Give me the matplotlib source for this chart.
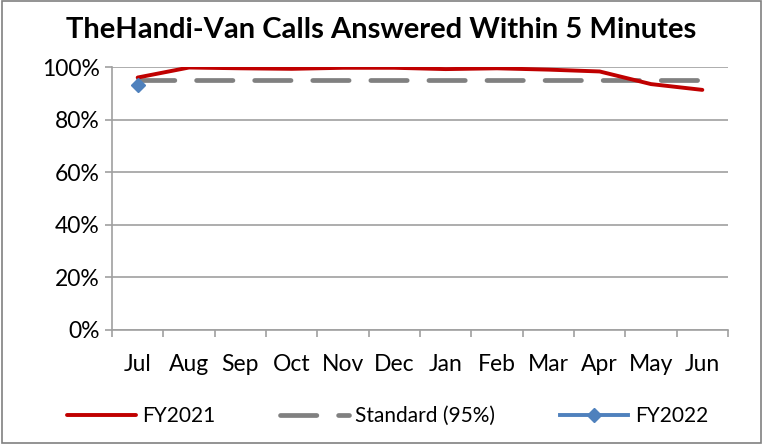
import matplotlib
matplotlib.use("Agg")
import matplotlib.pyplot as plt
from matplotlib.ticker import FuncFormatter, FixedLocator
import numpy as np

months = ["Jul", "Aug", "Sep", "Oct", "Nov", "Dec", "Jan", "Feb", "Mar", "Apr", "May", "Jun"]
fy2021 = [96.0, 99.8, 99.5, 99.3, 99.7, 99.7, 99.2, 99.5, 99.0, 98.3, 93.5, 91.3]
standard = [95] * 12
fy2022 = [93.3]
yticks = [0, 20, 40, 60, 80, 100]

plt.rcParams['font.family'] = ['Lato', 'DejaVu Sans']

fig = plt.figure(figsize=(7.63, 4.44), dpi=100)
ax = fig.add_axes([112/763, 1-330/444, (728-112)/763, (330-67)/444])

x = np.arange(len(months))
ax.plot(x, fy2021, color="#C00000", lw=2.8, solid_capstyle="round", solid_joinstyle="round",
        label="FY2021", zorder=3)
ax.plot(x, standard, color="#808080", lw=3.4, dashes=(7.7, 4.6), dash_capstyle="round",
        label="Standard (95%)", zorder=2)
ax.plot(x[:len(fy2022)], fy2022, color="#4F81BD", lw=2.8, marker="D", markersize=7.5,
        label="FY2022", zorder=4)

ax.set_xlim(-0.5, len(months) - 0.5)
ax.set_ylim(0, 100)
ax.set_yticks(yticks)
ax.yaxis.set_major_formatter(FuncFormatter(lambda v, p: f"{int(v)}%"))
ax.grid(axis="y", color="#A0A0A0", lw=1.2)
ax.set_axisbelow(True)

ax.set_xticks(x)
ax.set_xticklabels(months)
ax.xaxis.set_minor_locator(FixedLocator(np.arange(-0.5, len(months), 1.0)))
ax.tick_params(axis="x", which="major", length=0, pad=17, labelsize=16.5)
ax.tick_params(axis="x", which="minor", length=5, width=1.2, color="#A0A0A0", direction="out")
ax.tick_params(axis="y", length=5, width=1.2, color="#A0A0A0", labelsize=16.5, pad=4)

for s in ["top", "right"]:
    ax.spines[s].set_visible(False)
for s in ["left", "bottom"]:
    ax.spines[s].set_color("#A0A0A0")
    ax.spines[s].set_linewidth(1.2)

fig.text(0.5, 1 - 30/444, "TheHandi-Van Calls Answered Within 5 Minutes", ha="center", va="center",
         fontsize=21, fontweight="bold")

leg = fig.legend(loc="center", bbox_to_anchor=(0.508, 1 - 416/444), ncol=3, frameon=False,
                 fontsize=15, handlelength=3.3, columnspacing=3.1, handletextpad=0.3)

fig.patches.append(plt.Rectangle((0.002, 0.003), 0.995, 0.994, transform=fig.transFigure,
                                 fill=False, edgecolor="#808080", lw=1.2))

fig.savefig("out.png", dpi=100)
